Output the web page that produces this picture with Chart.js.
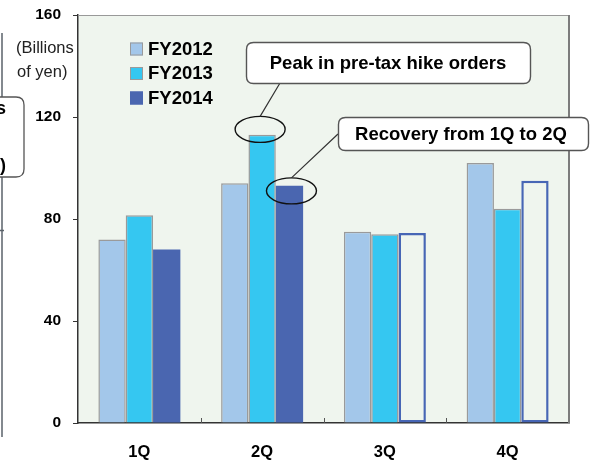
<!DOCTYPE html>
<html>
<head>
<meta charset="utf-8">
<script src="https://cdn.jsdelivr.net/npm/chart.js@4.4.1/dist/chart.umd.min.js"></script>
<style>
  html, body { margin: 0; padding: 0; background: #ffffff; }
  canvas { display: block; }
</style>
</head>
<body>
<canvas id="orders" width="592" height="461"></canvas>
<script>
// Quarterly orders, billions of yen
const categories = ['1Q', '2Q', '3Q', '4Q'];
const seriesNames = ['FY2012', 'FY2013', 'FY2014'];
const fy2012 = [72, 94, 75, 102];
const fy2013 = [81.5, 113, 74, 84];
const fy2014 = [68, 93, 74.5, 95];
const fy2014Forecast = [false, false, true, true];
const yTicks = [0, 40, 80, 120, 160];

const unitLines = ['(Billions', 'of yen)'];
const peakNote = 'Peak in pre-tax hike orders';
const recoveryNote = 'Recovery from 1Q to 2Q';

const FONT = '"Liberation Sans", Arial, Helvetica, sans-serif';
const PLOT_BG = '#eff5ee';
const C12 = '#a3c7ea';
const C13 = '#35c7f1';
const C14 = '#4a66b0';
const BAR_EDGE = '#9a9a9a';

function roundRect(ctx, x, y, w, h, r) {
  ctx.beginPath();
  ctx.moveTo(x + r, y);
  ctx.lineTo(x + w - r, y);
  ctx.quadraticCurveTo(x + w, y, x + w, y + r);
  ctx.lineTo(x + w, y + h - r);
  ctx.quadraticCurveTo(x + w, y + h, x + w - r, y + h);
  ctx.lineTo(x + r, y + h);
  ctx.quadraticCurveTo(x, y + h, x, y + h - r);
  ctx.lineTo(x, y + r);
  ctx.quadraticCurveTo(x, y, x + r, y);
  ctx.closePath();
}

const framePlugin = {
  id: 'frame',
  beforeDraw(chart) {
    const { ctx, chartArea: a } = chart;
    ctx.save();
    ctx.fillStyle = PLOT_BG;
    ctx.fillRect(a.left, a.top, a.right - a.left, a.bottom - a.top);
    ctx.restore();
  },
  afterDraw(chart) {
    const { ctx, chartArea: a } = chart;
    const xs = chart.scales.x;
    ctx.save();
    // top and right edges of the plot frame
    ctx.strokeStyle = '#999999';
    ctx.lineWidth = 1;
    ctx.beginPath();
    ctx.moveTo(a.left, a.top + 0.5);
    ctx.lineTo(a.right, a.top + 0.5);
    ctx.stroke();
    ctx.strokeStyle = '#7c7c7c';
    ctx.lineWidth = 2;
    ctx.beginPath();
    ctx.moveTo(a.right, a.top);
    ctx.lineTo(a.right, a.bottom);
    ctx.stroke();
    // inward ticks between categories
    ctx.strokeStyle = '#555555';
    ctx.lineWidth = 1;
    for (let i = 0; i < categories.length - 1; i++) {
      const bx = Math.round((xs.getPixelForTick(i) + xs.getPixelForTick(i + 1)) / 2) + 0.5;
      ctx.beginPath();
      ctx.moveTo(bx, a.bottom);
      ctx.lineTo(bx, a.bottom - 5);
      ctx.stroke();
    }
    ctx.restore();
  }
};

const notesPlugin = {
  id: 'notes',
  afterDraw(chart) {
    const { ctx } = chart;
    ctx.save();

    // neighbouring panel edge on the left
    ctx.strokeStyle = '#5b636b';
    ctx.lineWidth = 1.5;
    ctx.beginPath();
    ctx.moveTo(2, 33);
    ctx.lineTo(2, 437);
    ctx.moveTo(0, 230.5);
    ctx.lineTo(4, 230.5);
    ctx.stroke();
    ctx.fillStyle = '#ffffff';
    roundRect(ctx, -60, 97, 84, 80, 8);
    ctx.fill();
    ctx.strokeStyle = '#555555';
    ctx.lineWidth = 1.3;
    ctx.stroke();
    ctx.fillStyle = '#000000';
    ctx.font = 'bold 18px ' + FONT;
    ctx.textAlign = 'right';
    ctx.textBaseline = 'middle';
    ctx.fillText('orders', 6, 109);
    ctx.fillText('(FY2013)', 6, 166);

    // unit label
    ctx.font = '16.5px ' + FONT;
    ctx.textAlign = 'left';
    ctx.fillStyle = '#222222';
    ctx.fillText(unitLines[0], 16, 48);
    ctx.fillText(unitLines[1], 17, 72);

    // legend
    const colors = [C12, C13, C14];
    const edges = [BAR_EDGE, BAR_EDGE, C14];
    ctx.font = 'bold 18.5px ' + FONT;
    ctx.fillStyle = '#000000';
    seriesNames.forEach((name, i) => {
      const cy = 49 + i * 24.5;
      ctx.fillStyle = colors[i];
      ctx.fillRect(130, cy - 6.5, 13, 13);
      ctx.strokeStyle = edges[i];
      ctx.lineWidth = 1;
      ctx.strokeRect(130.5, cy - 6, 12, 12);
      ctx.fillStyle = '#000000';
      ctx.fillText(name, 148, cy + 0.5);
    });

    // ellipses around the 2Q bars, lines to the callouts
    const peakBar = chart.getDatasetMeta(1).data[1];
    const recBar = chart.getDatasetMeta(2).data[1];
    const e1 = { x: peakBar.x - 2, y: peakBar.y - 5.5 };
    const e2 = { x: recBar.x + 2, y: recBar.y + 5 };
    ctx.strokeStyle = '#111111';
    ctx.lineWidth = 1.4;
    ctx.beginPath();
    ctx.ellipse(e1.x, e1.y, 25, 13, 0, 0, Math.PI * 2);
    ctx.stroke();
    ctx.beginPath();
    ctx.ellipse(e2.x, e2.y, 25, 13, 0, 0, Math.PI * 2);
    ctx.stroke();
    ctx.strokeStyle = '#333333';
    ctx.lineWidth = 1.2;
    ctx.beginPath();
    ctx.moveTo(280, 83);
    ctx.lineTo(e1.x, e1.y - 13);
    ctx.moveTo(338, 134);
    ctx.lineTo(e2.x, e2.y - 13);
    ctx.stroke();

    // callout boxes
    ctx.lineWidth = 1.4;
    ctx.strokeStyle = '#555555';
    ctx.fillStyle = '#ffffff';
    roundRect(ctx, 246.5, 42.5, 284, 41, 7);
    ctx.fill();
    ctx.stroke();
    ctx.fillStyle = '#ffffff';
    roundRect(ctx, 338.5, 117.5, 250, 33, 7);
    ctx.fill();
    ctx.stroke();
    ctx.fillStyle = '#000000';
    ctx.font = 'bold 18.5px ' + FONT;
    ctx.textAlign = 'center';
    ctx.fillText(peakNote, 388, 63.5);
    ctx.fillText(recoveryNote, 461, 134.5);

    ctx.restore();
  }
};

const chart = new Chart(document.getElementById('orders'), {
  type: 'bar',
  data: {
    labels: categories,
    datasets: [
      {
        label: seriesNames[0],
        data: fy2012,
        backgroundColor: C12,
        borderColor: BAR_EDGE,
        borderWidth: 1.5
      },
      {
        label: seriesNames[1],
        data: fy2013,
        backgroundColor: C13,
        borderColor: BAR_EDGE,
        borderWidth: 1.5
      },
      {
        label: seriesNames[2],
        data: fy2014,
        backgroundColor: fy2014Forecast.map(f => f ? PLOT_BG : C14),
        borderColor: fy2014Forecast.map(f => f ? '#4766b5' : C14),
        borderWidth: fy2014Forecast.map(f => f ? 2.5 : 0),
        borderSkipped: fy2014Forecast.map(f => f ? false : 'start')
      }
    ]
  },
  options: {
    responsive: false,
    devicePixelRatio: 1,
    animation: false,
    layout: { padding: { top: 15, right: 23, left: 0, bottom: 0 } },
    datasets: {
      bar: { categoryPercentage: 0.668, barPercentage: 1.0 }
    },
    plugins: {
      legend: { display: false },
      tooltip: { enabled: false }
    },
    scales: {
      x: {
        grid: { display: true, drawOnChartArea: false, drawTicks: false },
        border: { color: '#333333', width: 1.5 },
        ticks: {
          color: '#000000',
          padding: 20,
          font: { family: FONT, size: 16.5, weight: 'bold' }
        },
        afterFit(s) {
          s.height = 38;
          s.paddingLeft = 0;
          s.paddingRight = 0;
        }
      },
      y: {
        min: 0,
        max: 160,
        afterBuildTicks(s) { s.ticks = yTicks.map(v => ({ value: v })); },
        grid: { drawOnChartArea: false, tickLength: 5, color: '#333333' },
        border: { color: '#333333', width: 1.5 },
        ticks: {
          color: '#000000',
          padding: 12,
          font: { family: FONT, size: 15.5, weight: 'bold' }
        },
        afterFit(s) {
          s.width = 78;
          s.paddingTop = 0;
          s.paddingBottom = 0;
        }
      }
    }
  },
  plugins: [framePlugin, notesPlugin]
});
</script>
</body>
</html>
